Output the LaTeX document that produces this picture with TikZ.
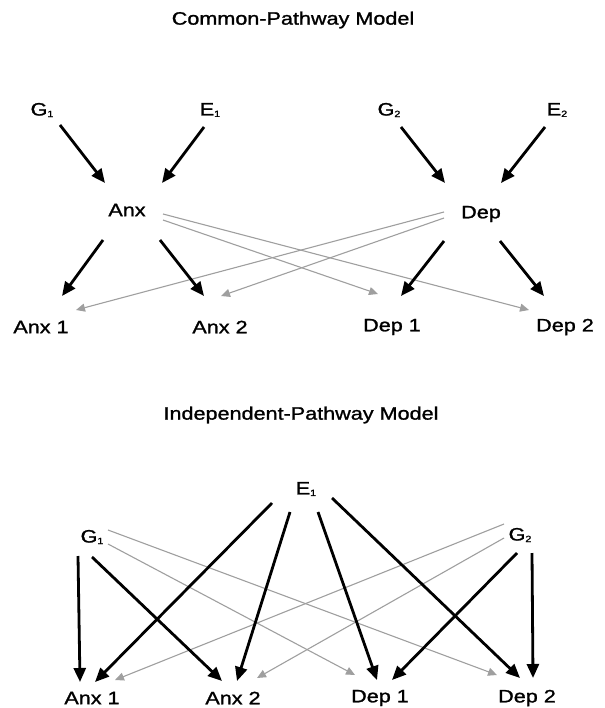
\documentclass[tikz,border=0pt]{standalone}
\usepackage{fontspec}
\setmainfont{Liberation Sans}[FakeStretch=1.2,FakeBold=1.3]
\usetikzlibrary{arrows.meta}
\newcommand\sbs[1]{\raisebox{-1.5pt}{\fontsize{9}{9}\selectfont #1}}
\tikzset{
  lbl/.style={font=\fontsize{18}{20}\selectfont, inner sep=0pt},
  blk/.style={line width=2.8pt, -{Triangle[length=14pt,width=12pt]}},
  gry/.style={line width=1.1pt, draw=gray!75, -{Triangle[length=9pt,width=8pt]}},
}
\begin{document}
\begin{tikzpicture}[x=1pt,y=-1pt]
\useasboundingbox (0,0) rectangle (604,708);
% ---------- Common-pathway model ----------
\node[lbl] (title1) at (293,20) {Common-Pathway Model};
\node[lbl] (G1) at (42,110) {G\sbs1};
\node[lbl] (E1) at (210,110) {E\sbs1};
\node[lbl] (G2) at (389,110) {G\sbs2};
\node[lbl] (E2) at (557,110) {E\sbs2};
\node[lbl] (Anx) at (127,210) {Anx};
\node[lbl] (Dep) at (481,214) {Dep};
\node[lbl] (A1) at (41,327) {Anx 1};
\node[lbl] (A2) at (220,327) {Anx 2};
\node[lbl] (D1) at (392,327) {Dep 1};
\node[lbl] (D2) at (565,327) {Dep 2};
\draw[gry] ([shift={(36,4)}]Anx.center) -- ([shift={(-36,-17)}]D2.center);
\draw[gry] ([shift={(36,10)}]Anx.center) -- ([shift={(-14,-33)}]D1.center);
\draw[gry] ([shift={(-37,-2)}]Dep.center) -- ([shift={(35,-17)}]A1.center);
\draw[gry] ([shift={(-37,4)}]Dep.center) -- ([shift={(1,-31)}]A2.center);
\draw[blk] ([shift={(18,15)}]G1.center) -- ([shift={(-22,-27)}]Anx.center);
\draw[blk] ([shift={(-6,17)}]E1.center) -- ([shift={(35,-27)}]Anx.center);
\draw[blk] ([shift={(12,17)}]G2.center) -- ([shift={(-36,-31)}]Dep.center);
\draw[blk] ([shift={(-12,17)}]E2.center) -- ([shift={(20,-31)}]Dep.center);
\draw[blk] ([shift={(-24,30)}]Anx.center) -- ([shift={(21,-31)}]A1.center);
\draw[blk] ([shift={(33,30)}]Anx.center) -- ([shift={(-16,-31)}]A2.center);
\draw[blk] ([shift={(-37,27)}]Dep.center) -- ([shift={(9,-31)}]D1.center);
\draw[blk] ([shift={(19,27)}]Dep.center) -- ([shift={(-21,-31)}]D2.center);
% ---------- Independent-pathway model ----------
\node[lbl] (title2) at (301,415) {Independent-Pathway Model};
\node[lbl] (E1b) at (306,489) {E\sbs1};
\node[lbl] (G1b) at (92,537) {G\sbs1};
\node[lbl] (G2b) at (520,535) {G\sbs2};
\node[lbl] (A1b) at (92,698) {Anx 1};
\node[lbl] (A2b) at (233,698) {Anx 2};
\node[lbl] (D1b) at (380,698) {Dep 1};
\node[lbl] (D2b) at (527,698) {Dep 2};
\draw[gry] ([shift={(16,-7)}]G1b.center) -- ([shift={(-30,-23)}]D2b.center);
\draw[gry] ([shift={(16,7)}]G1b.center) -- ([shift={(-25,-23)}]D1b.center);
\draw[gry] ([shift={(-16,-11)}]G2b.center) -- ([shift={(23,-18)}]A1b.center);
\draw[gry] ([shift={(-16,3)}]G2b.center) -- ([shift={(24,-20)}]A2b.center);
\draw[blk] ([shift={(-14,19)}]G1b.center) -- ([shift={(-12,-16)}]A1b.center);
\draw[blk] ([shift={(0,20)}]G1b.center) -- ([shift={(-11,-17)}]A2b.center);
\draw[blk] ([shift={(-34,14)}]E1b.center) -- ([shift={(3,-16)}]A1b.center);
\draw[blk] ([shift={(-16,23)}]E1b.center) -- ([shift={(4,-17)}]A2b.center);
\draw[blk] ([shift={(12,23)}]E1b.center) -- ([shift={(-3,-18)}]D1b.center);
\draw[blk] ([shift={(26,9)}]E1b.center) -- ([shift={(-7,-20)}]D2b.center);
\draw[blk] ([shift={(-3,18)}]G2b.center) -- ([shift={(12,-18)}]D1b.center);
\draw[blk] ([shift={(12,18)}]G2b.center) -- ([shift={(6,-20)}]D2b.center);
\end{tikzpicture}
\end{document}
